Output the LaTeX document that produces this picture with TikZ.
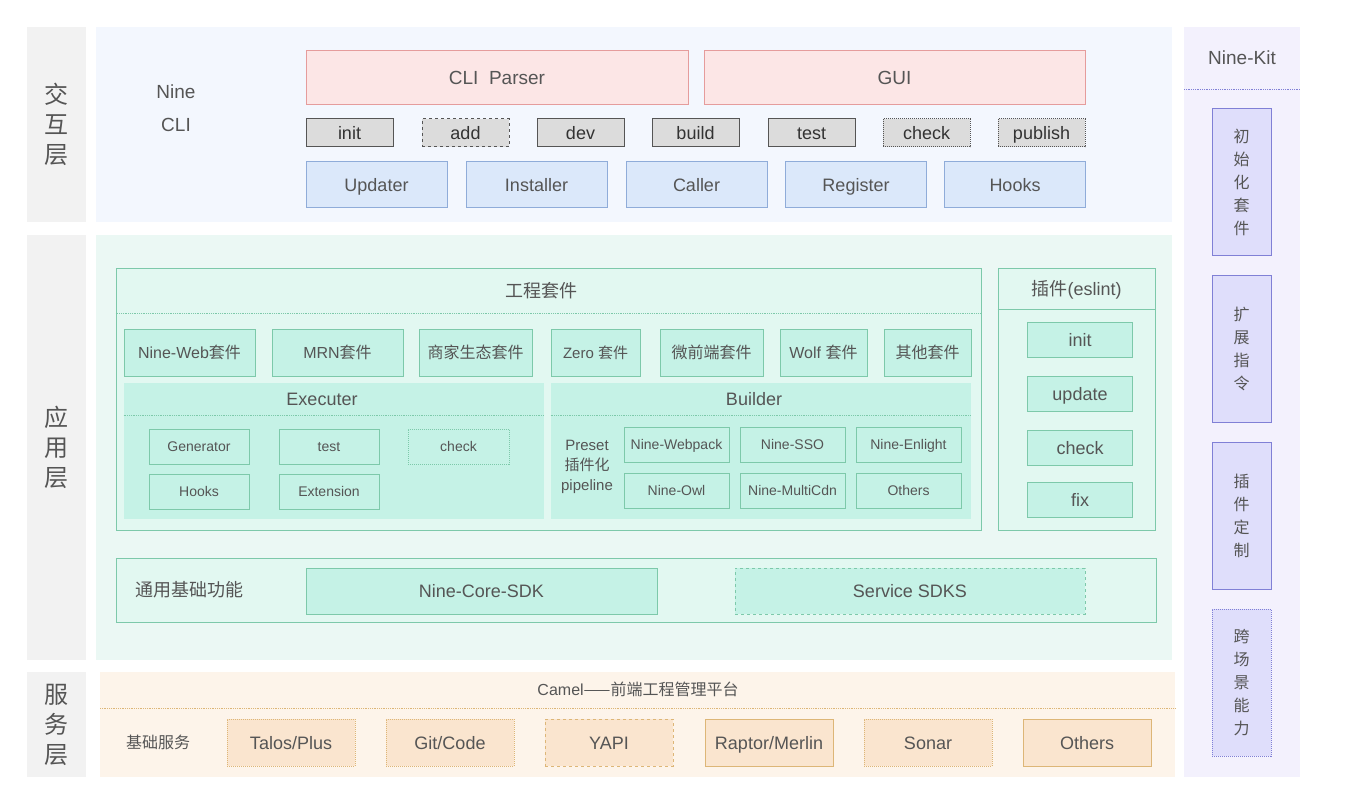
\documentclass[tikz,border=0pt]{standalone}
\usepackage{fontspec}
\setmainfont{Liberation Sans}
\newfontfamily\cjk{Noto Sans CJK SC}
\usepackage{tikz}
\usetikzlibrary{positioning, calc}

\newcommand{\zh}[1]{{\cjk #1}}
\newcommand{\fsz}[2]{\fontsize{#1}{#2}\selectfont}

\definecolor{txtgray}{HTML}{555555}
\definecolor{lblfill}{HTML}{F2F2F2}
\definecolor{topbg}{HTML}{F3F7FE}
\definecolor{midbg}{HTML}{EBF8F4}
\definecolor{botbg}{HTML}{FDF4EA}
\definecolor{kitbg}{HTML}{F3F1FD}
\definecolor{parserfill}{HTML}{FCE6E6}
\definecolor{parserline}{HTML}{E59C9C}
\definecolor{cmdfill}{HTML}{DCDCDC}
\definecolor{cmdline}{HTML}{555555}
\definecolor{bluefill}{HTML}{DBE8FA}
\definecolor{blueline}{HTML}{8FACD9}
\definecolor{mintout}{HTML}{E2F8F1}
\definecolor{mintfill}{HTML}{C5F2E6}
\definecolor{mintline}{HTML}{7DC9AA}
\definecolor{peachfill}{HTML}{FAE5CF}
\definecolor{peachline}{HTML}{DDB677}
\definecolor{purpfill}{HTML}{DFDEFB}
\definecolor{purpline}{HTML}{8080D6}

\tikzset{
  box/.style={rectangle, inner sep=0pt, line width=1pt, text=txtgray},
  oneline/.style={text height=#1, text depth=0pt},
  lbl/.style={box, fill=lblfill, minimum width=59pt, align=center, font=\cjk\fsz{24}{30}},
  parserbox/.style={box, oneline=13.7pt, draw=parserline, fill=parserfill, minimum width=382pt, minimum height=54pt, font=\fsz{19}{22}},
  cmdbox/.style={box, oneline=13pt, draw=cmdline, fill=cmdfill, minimum width=87pt, minimum height=28pt, text=black!80, font=\fsz{18}{22}},
  bluebox/.style={box, oneline=13pt, draw=blueline, fill=bluefill, minimum width=141pt, minimum height=46pt, font=\fsz{18}{22}},
  outerbox/.style={box, draw=mintline, fill=mintout},
  suitebox/.style={box, oneline=11.5pt, draw=mintline, fill=mintfill, minimum height=47pt, font=\fsz{16}{20}},
  panel/.style={box, fill=mintfill, minimum width=420pt, minimum height=136pt},
  smallbox/.style={box, oneline=10pt, draw=mintline, fill=mintfill, minimum width=100pt, minimum height=35pt, font=\fsz{14}{17}},
  plugbox/.style={box, oneline=13pt, draw=mintline, fill=mintfill, minimum width=105pt, minimum height=35pt, font=\fsz{18}{22}},
  sdkbox/.style={box, oneline=13pt, draw=mintline, fill=mintfill, minimum width=351pt, minimum height=46pt, font=\fsz{18}{22}},
  svcbox/.style={box, oneline=13pt, draw=peachline, fill=peachfill, minimum width=128pt, minimum height=47pt, font=\fsz{18}{22}},
  kitbox/.style={box, draw=purpline, fill=purpfill, minimum width=59pt, minimum height=147pt, align=center, font=\cjk\fsz{16}{23}},
  caption/.style={text=txtgray, inner sep=0pt, font=\fsz{18}{22}},
  sepline/.style={densely dotted, line width=0.8pt},
}

\begin{document}
\begin{tikzpicture}[x=1pt, y=-1pt]
    \useasboundingbox (0,0) rectangle (1346,802);
    \fill[white] (0,0) rectangle (1346,802);

    % Layer backgrounds
    \fill[topbg] (96,27) rectangle (1172,222);
    \fill[midbg] (96,235) rectangle (1172,660);
    \fill[botbg] (100,672) rectangle (1175,777);
    \fill[kitbg] (1184,27) rectangle (1300,777);

    % Layer labels
    \node[lbl, minimum height=195pt] (layerA) at (56.5,124.5) {交\\互\\层};
    \node[lbl, minimum height=425pt] (layerB) at (56.5,447.5) {应\\用\\层};
    \node[lbl, minimum height=105pt] (layerC) at (56.5,724.5) {服\\务\\层};

    % ---- Interaction layer ----
    \node[caption, align=center, font=\fsz{19}{33}] (ninecli) at (176,108.5) {Nine\\CLI};
    \node[parserbox] (parser) at (497,78) {CLI\ \ Parser};
    \node[parserbox, minimum width=381pt] (gui) at (894.5,78) {GUI};

    % Commands
    \node[cmdbox] (cinit) at (349.5,133) {init};
    \node[cmdbox, dashed] (cadd) at (465.5,133) {add};
    \node[cmdbox] (cdev) at (580.5,133) {dev};
    \node[cmdbox] (cbuild) at (695.5,133) {build};
    \node[cmdbox] (ctest) at (811.5,133) {test};
    \node[cmdbox, densely dotted] (ccheck) at (926.5,133) {check};
    \node[cmdbox, densely dotted] (cpublish) at (1041.5,133) {publish};

    % Core modules
    \node[bluebox] (updater) at (376.5,185) {Updater};
    \node[bluebox] (installer) at (536.5,185) {Installer};
    \node[bluebox] (caller) at (696.5,185) {Caller};
    \node[bluebox] (register) at (856,185) {Register};
    \node[bluebox] (hooks) at (1015,185) {Hooks};

    % ---- Application layer ----
    \node[outerbox, minimum width=865pt, minimum height=261pt] (suite) at (548.5,399.5) {};
    \node[caption, font=\cjk\fsz{18}{22}] (suitetitle) at (541,291) {工程套件};
    \draw[sepline, mintline] (suite.west |- 0,313) -- (suite.east |- 0,313);

    \node[suitebox, minimum width=131pt] (sweb) at (189.5,352.5) {Nine-Web\zh{套件}};
    \node[suitebox, minimum width=131pt] (smrn) at (337.5,352.5) {MRN\zh{套件}};
    \node[suitebox, minimum width=113pt] (sbiz) at (475.5,352.5) {\zh{商家生态套件}};
    \node[suitebox, minimum width=89pt, font=\fsz{15}{20}] (szero) at (595.5,352.5) {Zero \zh{套件}};
    \node[suitebox, minimum width=103pt] (smicro) at (711.5,352.5) {\zh{微前端套件}};
    \node[suitebox, minimum width=87pt] (swolf) at (823.5,352.5) {Wolf \zh{套件}};
    \node[suitebox, minimum width=87pt] (sother) at (927.5,352.5) {\zh{其他套件}};

    % Executer
    \node[panel] (exec) at (334,451) {};
    \node[caption] (exectitle) at (322,399) {Executer};
    \draw[sepline, mintline] (exec.west |- 0,415) -- (exec.east |- 0,415);
    \node[smallbox] (egen) at (199,446.5) {Generator};
    \node[smallbox] (etest) at (329,446.5) {test};
    \node[smallbox, densely dotted, minimum width=101pt] (echeck) at (458.5,446.5) {check};
    \node[smallbox] (ehooks) at (199,491.5) {Hooks};
    \node[smallbox] (eext) at (329,491.5) {Extension};

    % Builder
    \node[panel] (builder) at (761,451) {};
    \node[caption] (buildtitle) at (754,399) {Builder};
    \draw[sepline, mintline] (builder.west |- 0,415) -- (builder.east |- 0,415);
    \node[caption, align=center, font=\fsz{15}{20}] (preset) at (587,467) {Preset\\\zh{插件化}\\pipeline};
    \node[smallbox, minimum width=105pt] (bwebpack) at (676.5,444.5) {Nine-Webpack};
    \node[smallbox, minimum width=105pt] (bsso) at (792.5,444.5) {Nine-SSO};
    \node[smallbox, minimum width=105pt] (benlight) at (908.5,444.5) {Nine-Enlight};
    \node[smallbox, minimum width=105pt] (bowl) at (676.5,490.5) {Nine-Owl};
    \node[smallbox, minimum width=105pt] (bcdn) at (792.5,490.5) {Nine-MultiCdn};
    \node[smallbox, minimum width=105pt] (bothers) at (908.5,490.5) {Others};

    % Plugin (eslint)
    \node[outerbox, minimum width=157pt, minimum height=261pt] (plugin) at (1076.5,399.5) {};
    \node[caption] (plugtitle) at (1076.5,290) {\zh{插件}(eslint)};
    \draw[mintline, line width=1pt] (plugin.west |- 0,309) -- (plugin.east |- 0,309);
    \node[plugbox] (pinit) at (1080,339.5) {init};
    \node[plugbox] (pupdate) at (1080,393.5) {update};
    \node[plugbox] (pcheck) at (1080,447.5) {check};
    \node[plugbox] (pfix) at (1080,499.5) {fix};

    % Common base
    \node[outerbox, minimum width=1040pt, minimum height=64pt] (base) at (636,590) {};
    \node[caption, font=\cjk\fsz{18}{22}] (basetitle) at (189,590) {通用基础功能};
    \node[sdkbox] (coresdk) at (481.5,591) {Nine-Core-SDK};
    \node[sdkbox, dashed, minimum width=350pt] (svcsdk) at (910,591) {Service SDKS};

    % ---- Service layer ----
    \node[caption, font=\fsz{16}{20}] (camel) at (638,689) {Camel\zh{——前端工程管理平台}};
    \draw[sepline, peachline] (100,708) -- (1175,708);
    \node[caption, font=\cjk\fsz{16}{20}] (basesvc) at (158,742) {基础服务};
    \node[svcbox, densely dotted] (talos) at (291,742.5) {Talos/Plus};
    \node[svcbox, densely dotted] (git) at (450,742.5) {Git/Code};
    \node[svcbox, dashed] (yapi) at (609,742.5) {YAPI};
    \node[svcbox] (raptor) at (769,742.5) {Raptor/Merlin};
    \node[svcbox, densely dotted] (sonar) at (928,742.5) {Sonar};
    \node[svcbox] (others) at (1087,742.5) {Others};

    % ---- Nine-Kit ----
    \node[caption, font=\fsz{19}{22}] (ninekit) at (1242,58) {Nine-Kit};
    \draw[sepline, purpline] (1184,89) -- (1300,89);
    \node[kitbox] (kinit) at (1241.5,182.5) {初\\始\\化\\套\\件};
    \node[kitbox] (kext) at (1241.5,349) {扩\\展\\指\\令};
    \node[kitbox] (kplug) at (1241.5,516) {插\\件\\定\\制};
    \node[kitbox, densely dotted] (kcross) at (1241.5,682.5) {跨\\场\\景\\能\\力};
\end{tikzpicture}
\end{document}
